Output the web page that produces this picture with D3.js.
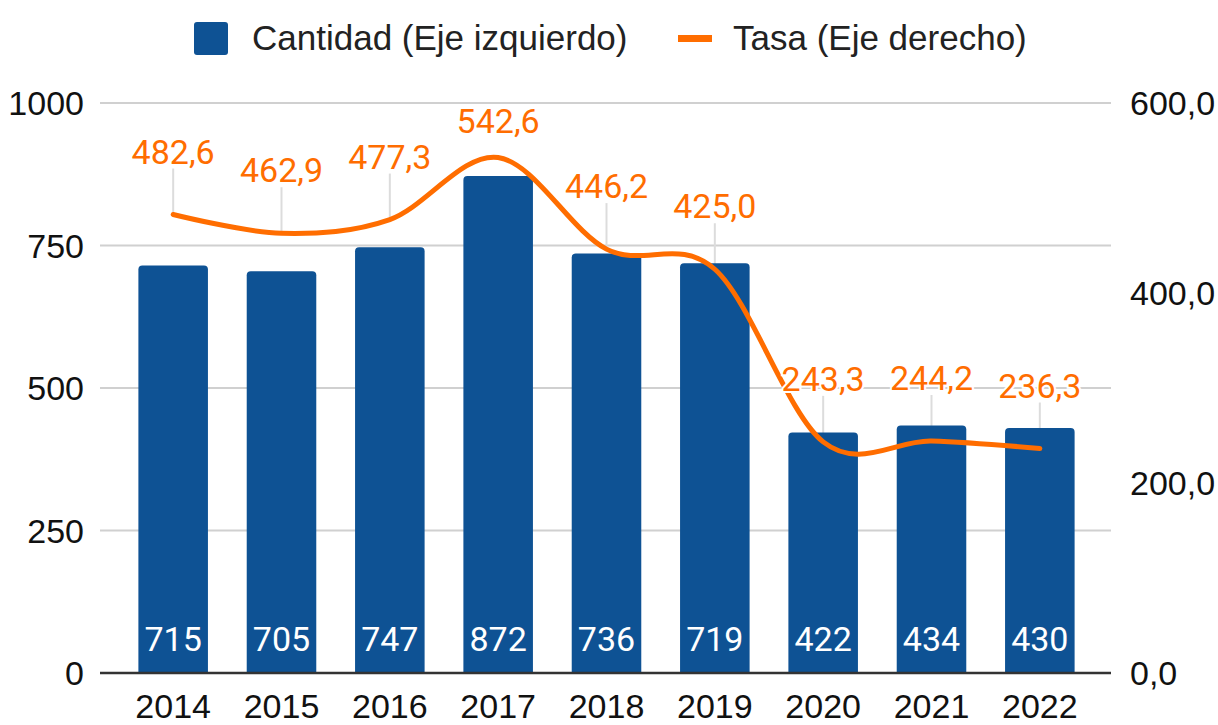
<!DOCTYPE html>
<html>
<head>
<meta charset="utf-8">
<script src="https://cdn.jsdelivr.net/npm/d3@7"></script>
<style>
  html, body { margin: 0; padding: 0; background: #fff; }
  svg { display: block; font-family: Roboto, "Noto Sans", sans-serif; }
  .arial { font-family: "Liberation Sans", Arial, sans-serif; }
</style>
</head>
<body>
<svg id="chart"></svg>
<script>
"use strict";

// ---------- data ----------
const years = ["2014", "2015", "2016", "2017", "2018", "2019", "2020", "2021", "2022"];
const cantidad = [715, 705, 747, 872, 736, 719, 422, 434, 430];
const tasa = [482.6, 462.9, 477.3, 542.6, 446.2, 425.0, 243.3, 244.2, 236.3];
const leftTicks = [0, 250, 500, 750, 1000];
const rightTicks = [0, 200, 400, 600];

// ---------- setup ----------
const W = 1218, H = 725;
const blue = "#0e5294", orange = "#ff6d00";
const fs = 34;

const svg = d3.select("#chart").attr("width", W).attr("height", H);

const x = d3.scaleBand().domain(years).range([119, 1094]).paddingInner(0.358).paddingOuter(0.179);
const yL = d3.scaleLinear().domain([0, 1000]).range([673, 103]);
const yR = d3.scaleLinear().domain([0, 600]).range([673, 103]);
const fmt = v => v.toFixed(1).replace(".", ",");

// grid lines
svg.append("g").selectAll("line")
  .data(leftTicks.filter(d => d > 0))
  .enter().append("line")
  .attr("x1", 100).attr("x2", 1111)
  .attr("y1", d => yL(d)).attr("y2", d => yL(d))
  .attr("stroke", "#d0d0d0").attr("stroke-width", 2);

// left axis labels
svg.append("g").attr("class", "arial").selectAll("text")
  .data(leftTicks)
  .enter().append("text")
  .attr("x", 84).attr("y", d => yL(d))
  .attr("dy", "0.36em")
  .attr("text-anchor", "end")
  .style("font-size", fs + "px").attr("fill", "#111")
  .text(d => d);

// right axis labels
svg.append("g").attr("class", "arial").selectAll("text")
  .data(rightTicks)
  .enter().append("text")
  .attr("x", 1130).attr("y", d => yR(d))
  .attr("dy", "0.36em")
  .style("font-size", fs + "px").attr("fill", "#111")
  .text(d => fmt(d));

// annotation positions for the rate labels
const ann = tasa.map((v, i) => {
  const py = yR(v);
  const base = Math.max(py - 51, 133);
  return { year: years[i], v, px: x(years[i]) + x.bandwidth() / 2, py, base, stem: base === py - 51 };
});

// stems (behind bars)
svg.append("g").selectAll("line")
  .data(ann.filter(d => d.stem))
  .enter().append("line")
  .attr("x1", d => d.px).attr("x2", d => d.px)
  .attr("y1", d => d.base + 5).attr("y2", d => d.py)
  .attr("stroke", "#dcdcdc").attr("stroke-width", 2);

// bars with rounded top corners
const r = 4;
svg.append("g").selectAll("path")
  .data(cantidad)
  .enter().append("path")
  .attr("fill", blue)
  .attr("d", (d, i) => {
    const x0 = x(years[i]), x1 = x0 + x.bandwidth(), y0 = yL(d), yb = yL(0);
    return `M${x0},${yb}V${y0 + r}Q${x0},${y0} ${x0 + r},${y0}H${x1 - r}Q${x1},${y0} ${x1},${y0 + r}V${yb}Z`;
  });

// bar value labels
svg.append("g").selectAll("text")
  .data(cantidad)
  .enter().append("text")
  .attr("x", (d, i) => x(years[i]) + x.bandwidth() / 2)
  .attr("y", 651)
  .attr("text-anchor", "middle")
  .style("font-size", fs + "px").attr("fill", "#fff")
  .text(d => d);

// baseline
svg.append("line")
  .attr("x1", 100).attr("x2", 1111)
  .attr("y1", yL(0)).attr("y2", yL(0))
  .attr("stroke", "#333").attr("stroke-width", 2.5);

// year labels
svg.append("g").attr("class", "arial").selectAll("text")
  .data(years)
  .enter().append("text")
  .attr("x", d => x(d) + x.bandwidth() / 2)
  .attr("y", 718)
  .attr("text-anchor", "middle")
  .style("font-size", fs + "px").attr("fill", "#111")
  .text(d => d);

// rate line
const line = d3.line()
  .x((d, i) => x(years[i]) + x.bandwidth() / 2)
  .y(d => yR(d))
  .curve(d3.curveCardinal.tension(0));

svg.append("path")
  .datum(tasa)
  .attr("d", line)
  .attr("fill", "none")
  .attr("stroke", orange)
  .attr("stroke-width", 5)
  .attr("stroke-linecap", "round");

// rate labels with white halo
svg.append("g").selectAll("text")
  .data(ann)
  .enter().append("text")
  .attr("x", d => d.px).attr("y", d => d.base)
  .attr("text-anchor", "middle")
  .style("font-size", fs + "px")
  .attr("fill", orange)
  .attr("stroke", "#fff").attr("stroke-width", 4)
  .attr("paint-order", "stroke")
  .text(d => fmt(d.v));

// ---------- legend ----------
const lg = svg.append("g").attr("class", "arial");
lg.append("rect")
  .attr("x", 194).attr("y", 22).attr("width", 34).attr("height", 33)
  .attr("rx", 3).attr("fill", blue);
lg.append("text")
  .attr("x", 252).attr("y", 50)
  .style("font-size", "35px").attr("fill", "#222")
  .text("Cantidad (Eje izquierdo)");
lg.append("rect")
  .attr("x", 678).attr("y", 35).attr("width", 34).attr("height", 7)
  .attr("fill", orange);
lg.append("text")
  .attr("x", 733).attr("y", 50)
  .style("font-size", "35px").attr("fill", "#222")
  .text("Tasa (Eje derecho)");
</script>
</body>
</html>
